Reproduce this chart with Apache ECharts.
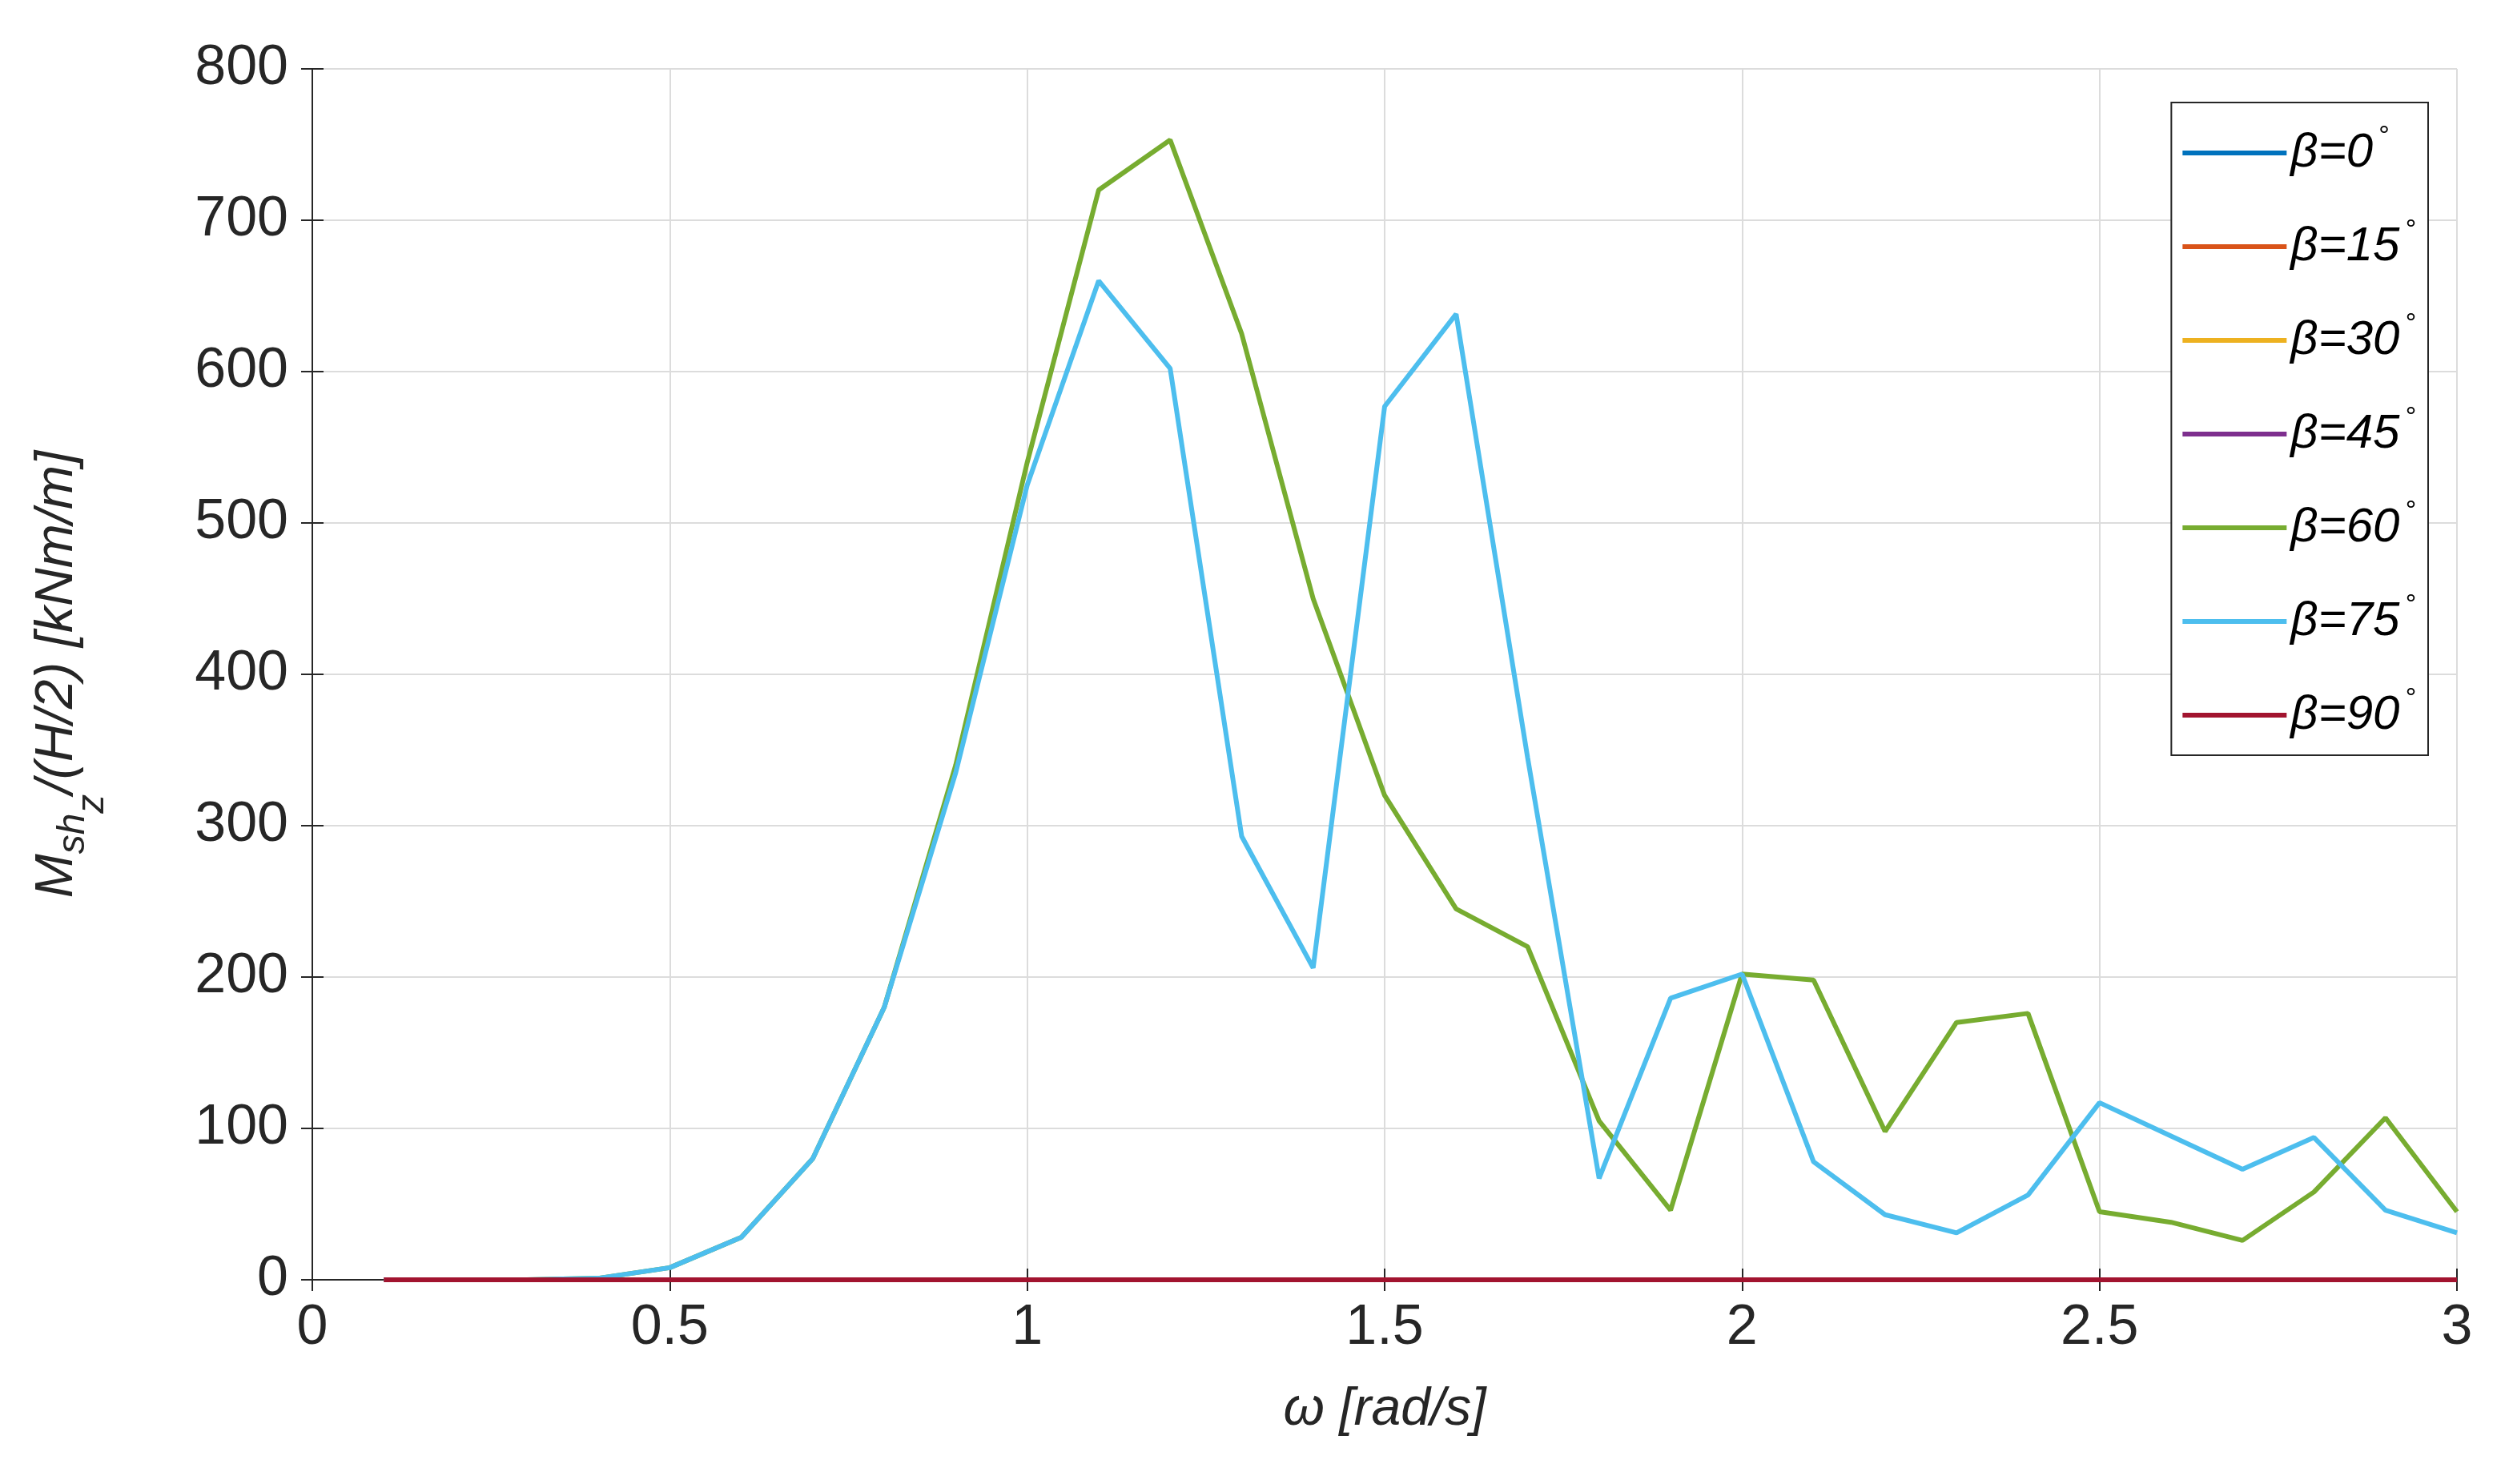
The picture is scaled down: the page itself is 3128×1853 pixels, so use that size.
<!DOCTYPE html><html><head><meta charset="utf-8">
<script src="https://cdn.jsdelivr.net/npm/echarts@6/dist/echarts.min.js"></script>
<style>html,body{margin:0;background:#fff}#c{width:3128px;height:1853px}</style></head><body><div id="c"></div>
<script>
const omega=[0.1,0.2,0.3,0.4,0.5,0.6,0.7,0.8,0.9,1.0,1.1,1.2,1.3,1.4,1.5,1.6,1.7,1.8,1.9,2.0,2.1,2.2,2.3,2.4,2.5,2.6,2.7,2.8,2.9,3.0];
const beta0=omega.map(()=>0), beta15=omega.map(()=>0), beta30=omega.map(()=>0), beta45=omega.map(()=>0), beta90=omega.map(()=>0);
const beta60=[0,0,0,1,8,28,80,180,340,540,720,753,625,450,320,245,220,105,46,202,198,98,170,176,45,38,26,58,107,45];
const beta75=[0,0,0,1,8,28,80,180,335,525,660,602,293,206,577,638,345,67,186,202,78,43,31,56,117,95,73,94,46,31];
const names=['β=0','β=15','β=30','β=45','β=60','β=75','β=90'];
const colors=['#0072BD','#D95319','#EDB120','#7E2F8E','#77AC30','#4DBEEE','#A2142F'];
const vals=[beta0,beta15,beta30,beta45,beta60,beta75,beta90];
const ch=echarts.init(document.getElementById('c'));
const font='Arial, Liberation Sans';
const line={show:true,lineStyle:{color:'#262626',width:2}};
const tick={inside:true,length:14,lineStyle:{color:'#262626',width:2}};
ch.setOption({
 backgroundColor:'#fff',
 grid:{left:390,right:60,top:86,bottom:255},
 legend:{right:96,top:128,orient:'vertical',itemWidth:130,itemHeight:6,itemGap:50,
  padding:[26,16,20,14],borderColor:'#262626',borderWidth:2,backgroundColor:'#fff',
  icon:'rect',
  textStyle:{fontFamily:font,fontSize:60,fontStyle:'italic',color:'#000',
   rich:{s:{fontSize:34,verticalAlign:'top',padding:[0,0,40,6],fontFamily:font}}},
  formatter:n=>n+'{s|°}'},
 xAxis:[{type:'value',min:0,max:3,interval:0.5,
  name:'ω [rad/s]',nameLocation:'middle',nameGap:130,
  nameTextStyle:{fontFamily:font,fontSize:66,fontStyle:'italic',color:'#262626'},
  axisLine:line,axisTick:tick,
  axisLabel:{fontFamily:font,fontSize:70,color:'#262626',margin:26,formatter:v=>String(v)},
  splitLine:{lineStyle:{color:'#dcdcdc',width:2}}},
  {type:'value',min:0,max:3,interval:0.5,position:'top',axisLine:line,axisTick:tick,axisLabel:{show:false},splitLine:{show:false}}],
 yAxis:[{type:'value',min:0,max:800,interval:100,
  name:'{i|M}{sb|sh}{sz|z}{i|/(H/2) [kNm/m]}',nameLocation:'middle',nameGap:250,nameRotate:90,
  nameTextStyle:{rich:{i:{fontFamily:font,fontSize:66,fontStyle:'italic',color:'#262626'},
   sb:{fontFamily:font,fontSize:48,fontStyle:'italic',color:'#262626',padding:[40,0,0,0]},
   sz:{fontFamily:font,fontSize:48,fontStyle:'italic',color:'#262626',padding:[88,0,0,0]}}},
  axisLine:line,axisTick:tick,
  axisLabel:{fontFamily:font,fontSize:70,color:'#262626',margin:30},
  splitLine:{lineStyle:{color:'#dcdcdc',width:2}}},
  {type:'value',min:0,max:800,interval:100,position:'right',axisLine:line,axisTick:tick,axisLabel:{show:false},splitLine:{show:false}}],
 series:names.map((n,i)=>({name:n,type:'line',showSymbol:false,symbol:'none',
  lineStyle:{width:6,color:colors[i]},itemStyle:{color:colors[i]},
  data:omega.map((x,j)=>[x,vals[i][j]])}))
});
</script></body></html>
